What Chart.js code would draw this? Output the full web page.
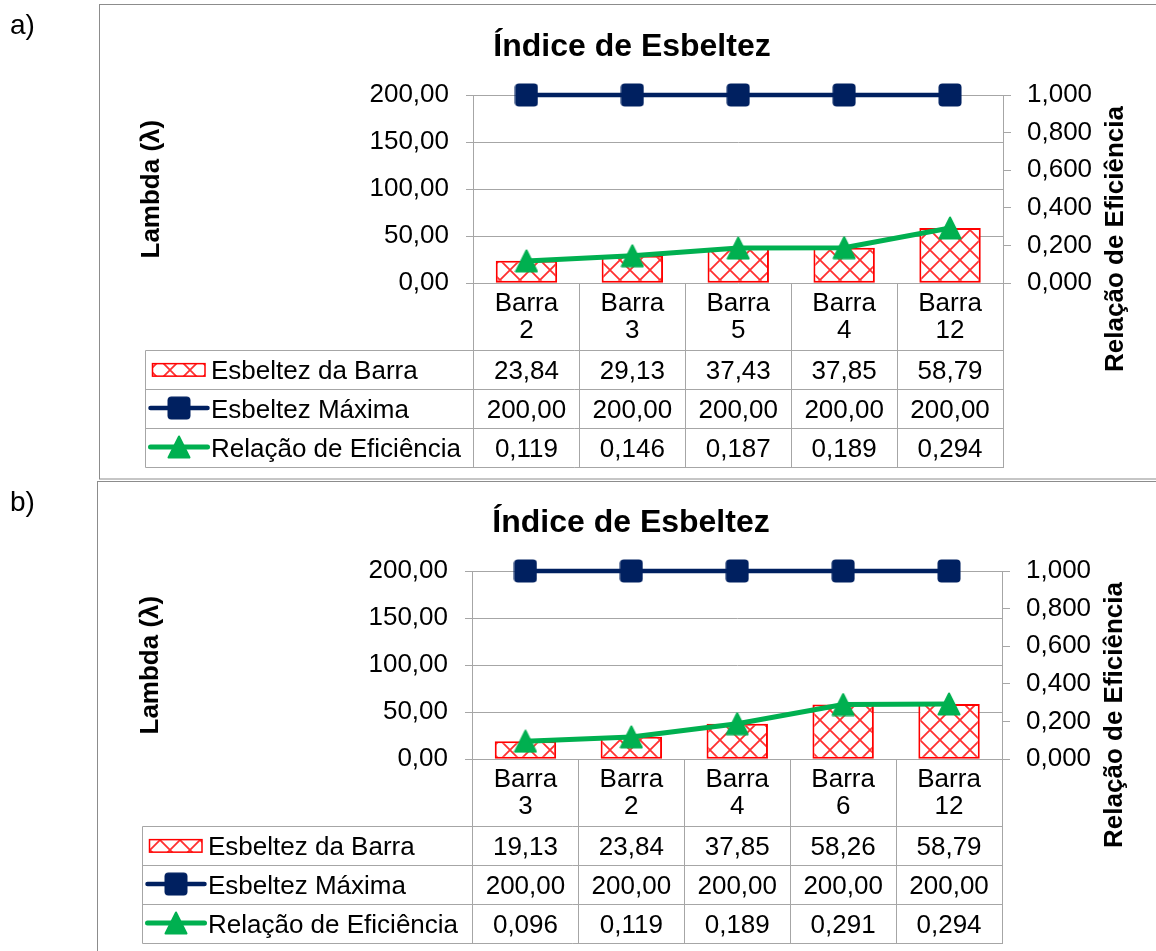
<!DOCTYPE html>
<html lang="pt">
<head>
<meta charset="utf-8">
<title>Índice de Esbeltez</title>
<script src="https://cdn.jsdelivr.net/npm/chart.js@4.4.1/dist/chart.umd.min.js"></script>
<style>
  html, body { margin: 0; padding: 0; background: #fff; overflow: hidden; }
  body { width: 1156px; height: 951px; position: relative; }
  canvas { position: absolute; left: 0; }
  #graficoA { top: 0; }
  #graficoB { top: 480px; }
</style>
</head>
<body>
<canvas id="graficoA" width="1156" height="480"></canvas>
<canvas id="graficoB" width="1156" height="471"></canvas>
<script>
// a) barras na ordem da primeira análise
const barrasA = ['Barra 2', 'Barra 3', 'Barra 5', 'Barra 4', 'Barra 12'];
const esbeltezA = [23.84, 29.13, 37.43, 37.85, 58.79];
const maximaA = [200, 200, 200, 200, 200];
const eficienciaA = [0.119, 0.146, 0.187, 0.189, 0.294];

// b) barras na ordem da segunda análise
const barrasB = ['Barra 3', 'Barra 2', 'Barra 4', 'Barra 6', 'Barra 12'];
const esbeltezB = [19.13, 23.84, 37.85, 58.26, 58.79];
const maximaB = [200, 200, 200, 200, 200];
const eficienciaB = [0.096, 0.119, 0.189, 0.291, 0.294];

// eixos
const lambdaMax = 200, lambdaPasso = 50;
const eficMax = 1, eficPasso = 0.2;

const AZUL = '#002060';
const VERDE = '#00B050';
const VERMELHO = '#FF0000';
const GRADE = '#A6A6A6';
const FONTE = "'Liberation Sans', Arial, sans-serif";

Chart.defaults.font.family = FONTE;
Chart.defaults.font.size = 26;
Chart.defaults.color = '#000';

const virgula = (v, casas) => v.toFixed(casas).replace('.', ',');
const px = v => Math.round(v - 0.5) + 0.5;

function hachura(ctx) {
  const c = document.createElement('canvas');
  c.width = 20; c.height = 20;
  const g = c.getContext('2d');
  g.fillStyle = '#fff';
  g.fillRect(0, 0, 20, 20);
  g.strokeStyle = '#ff3030';
  g.lineWidth = 1.8;
  g.beginPath();
  g.moveTo(-2, -2); g.lineTo(22, 22);
  g.moveTo(22, -2); g.lineTo(-2, 22);
  g.stroke();
  return ctx.createPattern(c, 'repeat');
}

function marcadorQuadrado() {
  const c = document.createElement('canvas');
  c.width = 24; c.height = 24;
  const g = c.getContext('2d');
  g.fillStyle = AZUL;
  g.beginPath();
  g.roundRect(0.5, 0.5, 23, 23, 4);
  g.fill();
  return c;
}

function marcadorTriangulo() {
  const c = document.createElement('canvas');
  c.width = 24; c.height = 24;
  const g = c.getContext('2d');
  g.fillStyle = VERDE;
  g.strokeStyle = VERDE;
  g.lineWidth = 2;
  g.lineJoin = 'round';
  g.beginPath();
  g.moveTo(12, 1.5); g.lineTo(22.5, 22.5); g.lineTo(1.5, 22.5);
  g.closePath();
  g.fill(); g.stroke();
  return c;
}

const quadrado = marcadorQuadrado();
const triangulo = marcadorTriangulo();

// moldura, rótulo a)/b), título do eixo direito e tabela de dados
const tabela = {
  id: 'tabela',
  afterDraw(chart, args, o) {
    const { ctx, chartArea: a, scales: { x } } = chart;
    const topo = x.bottom;
    const base = topo + 3 * o.linha;
    const n = chart.data.labels.length;
    const bordas = [a.left];
    for (let i = 1; i < n; i++) bordas.push((x.getPixelForTick(i - 1) + x.getPixelForTick(i)) / 2);
    bordas.push(a.right);

    ctx.save();
    // moldura
    ctx.strokeStyle = '#8C8C8C';
    ctx.lineWidth = 1;
    ctx.strokeRect(px(o.moldura.x), px(o.moldura.y), 2000, o.moldura.h);

    ctx.fillStyle = '#000';
    ctx.font = '28px ' + FONTE;
    ctx.textAlign = 'left';
    ctx.textBaseline = 'alphabetic';
    ctx.fillText(o.rotulo, 10, o.rotuloY);

    // grade da tabela
    ctx.strokeStyle = GRADE;
    ctx.beginPath();
    for (let k = 0; k <= 3; k++) {
      const y = px(topo + k * o.linha);
      ctx.moveTo(px(o.esq), y); ctx.lineTo(px(a.right) + 0.5, y);
    }
    ctx.moveTo(px(o.esq), px(topo)); ctx.lineTo(px(o.esq), px(base));
    bordas.forEach(b => { ctx.moveTo(px(b), px(a.bottom)); ctx.lineTo(px(b), px(base)); });
    ctx.stroke();

    // linhas: chave da legenda, nome e valores
    chart.data.datasets.forEach((ds, k) => {
      const yc = topo + (k + 0.5) * o.linha;
      const e = o.esq;
      if (ds.type === 'bar') {
        ctx.fillStyle = ds.backgroundColor;
        ctx.fillRect(e + 7, yc - 6.5, 52.5, 12.5);
        ctx.strokeStyle = ds.borderColor;
        ctx.lineWidth = 1.5;
        ctx.strokeRect(e + 7, yc - 6.5, 52.5, 12.5);
      } else {
        ctx.strokeStyle = ds.borderColor;
        ctx.lineWidth = ds.borderWidth;
        ctx.lineCap = 'round';
        ctx.beginPath();
        ctx.moveTo(e + 5, yc - 1); ctx.lineTo(e + 62, yc - 1);
        ctx.stroke();
        const m = ds.pointStyle;
        ctx.drawImage(m, e + 33.5 - m.width / 2, yc - 1 - m.height / 2);
      }
      ctx.fillStyle = '#000';
      ctx.font = '26px ' + FONTE;
      ctx.textAlign = 'left';
      ctx.fillText(ds.label, e + 65.5, yc + 9.3);
      ctx.textAlign = 'center';
      ds.data.forEach((v, i) => ctx.fillText(virgula(v, ds.casas), x.getPixelForTick(i), yc + 9.3));
    });

    // título do eixo secundário
    ctx.translate(o.tituloDir.x, o.tituloDir.y);
    ctx.rotate(-Math.PI / 2);
    ctx.font = 'bold 26px ' + FONTE;
    ctx.textAlign = 'center';
    ctx.textBaseline = 'middle';
    ctx.fillText('Relação de Eficiência', 0, 0);
    ctx.restore();
  }
};

function montarGrafico(id, barras, esbeltez, maxima, eficiencia, g) {
  const ctx = document.getElementById(id).getContext('2d');
  return new Chart(ctx, {
    data: {
      labels: barras.map(b => b.split(' ')),
      datasets: [
        {
          type: 'bar', label: 'Esbeltez da Barra', data: esbeltez, casas: 2, yAxisID: 'y',
          backgroundColor: hachura(ctx), borderColor: VERMELHO, borderWidth: 2, borderSkipped: false,
          barPercentage: 0.58, categoryPercentage: 1, order: 3
        },
        {
          type: 'line', label: 'Esbeltez Máxima', data: maxima, casas: 2, yAxisID: 'y',
          borderColor: AZUL, backgroundColor: AZUL, borderWidth: 4.5, tension: 0,
          pointStyle: quadrado, pointRadius: 12, clip: false, order: 2
        },
        {
          type: 'line', label: 'Relação de Eficiência', data: eficiencia, casas: 3, yAxisID: 'y1',
          borderColor: VERDE, backgroundColor: VERDE, borderWidth: 5, tension: 0,
          pointStyle: triangulo, pointRadius: 12, clip: false, order: 1
        }
      ]
    },
    options: {
      responsive: false,
      animation: false,
      devicePixelRatio: 1,
      layout: { padding: g.padding },
      plugins: {
        legend: { display: false },
        tooltip: { enabled: false },
        title: {
          display: true, text: 'Índice de Esbeltez', color: '#000',
          font: { size: 32, weight: 'bold' }, padding: { top: 18, bottom: 28.6 }
        },
        tabela: g.tabela
      },
      scales: {
        x: {
          offset: true,
          grid: { display: false, drawTicks: false },
          border: { display: false },
          ticks: { color: '#000', font: { size: 26, lineHeight: 1.05 }, padding: 7, maxRotation: 0, autoSkip: false },
          afterFit: s => { s.height = 67.4; }
        },
        y: {
          position: 'left', min: 0, max: lambdaMax,
          ticks: { stepSize: lambdaPasso, padding: 17, color: '#000', callback: v => virgula(v, 2) },
          grid: { color: GRADE, tickLength: 7.5 },
          border: { color: GRADE },
          title: { display: true, text: 'Lambda (λ)', color: '#000', font: { size: 26, weight: 'bold' }, padding: { top: 2, bottom: 0 } },
          afterFit: s => { s.width = 339.5; }
        },
        y1: {
          position: 'right', min: 0, max: eficMax,
          ticks: { stepSize: eficPasso, padding: 16, color: '#000', callback: v => virgula(v, 3) },
          grid: { drawOnChartArea: false, color: GRADE, tickLength: 8 },
          border: { color: GRADE },
          afterFit: s => { s.width = 127; }
        }
      }
    },
    plugins: [tabela]
  });
}

montarGrafico('graficoA', barrasA, esbeltezA, maximaA, eficienciaA, {
  padding: { left: 134, right: 26, top: 10, bottom: 129.3 },
  tabela: { esq: 145.5, linha: 38.9, rotulo: 'a)', rotuloY: 34, moldura: { x: 99.5, y: 4.5, h: 474.5 }, tituloDir: { x: 1116, y: 239 } }
});

montarGrafico('graficoB', barrasB, esbeltezB, maximaB, eficienciaB, {
  padding: { left: 133, right: 27, top: 6, bottom: 124.3 },
  tabela: { esq: 142.5, linha: 38.9, rotulo: 'b)', rotuloY: 30.5, moldura: { x: 97.5, y: 1.7, h: 1000 }, tituloDir: { x: 1115, y: 235 } }
});
</script>
</body>
</html>
